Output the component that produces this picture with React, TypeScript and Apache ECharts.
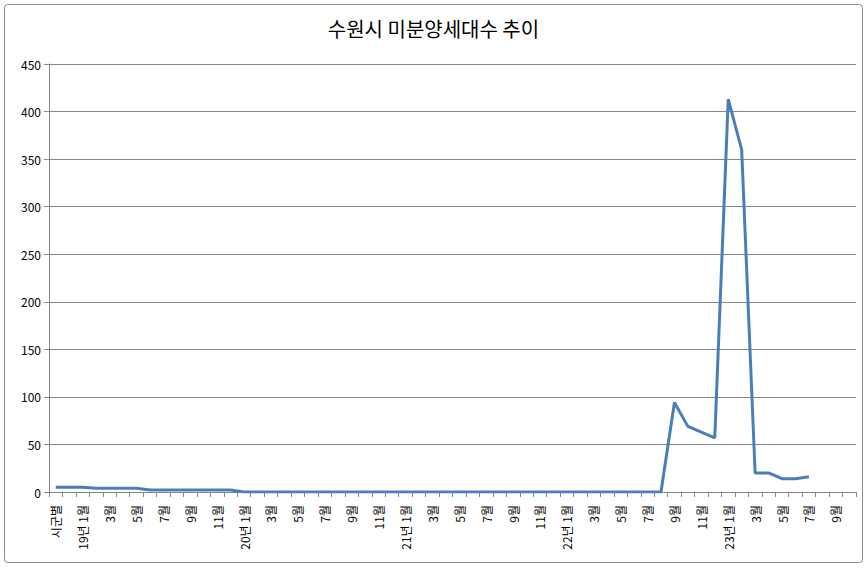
import React, { useEffect, useRef } from 'react'
import * as echarts from 'echarts'

const titleText = '수원시 미분양세대수 추이'

// x axis categories (label shown on every other one)
const categories = [
    '시군별', '18년 12월',
    '19년 1월', '2월', '3월', '4월', '5월', '6월', '7월', '8월', '9월', '10월', '11월', '12월',
    '20년 1월', '2월', '3월', '4월', '5월', '6월', '7월', '8월', '9월', '10월', '11월', '12월',
    '21년 1월', '2월', '3월', '4월', '5월', '6월', '7월', '8월', '9월', '10월', '11월', '12월',
    '22년 1월', '2월', '3월', '4월', '5월', '6월', '7월', '8월', '9월', '10월', '11월', '12월',
    '23년 1월', '2월', '3월', '4월', '5월', '6월', '7월', '8월', '9월', '10월',
]

const unsold: Array<number | null> = [
    5, 5,
    5, 4, 4, 4, 4, 2, 2, 2, 2, 2, 2, 2,
    0, 0, 0, 0, 0, 0, 0, 0, 0, 0, 0, 0,
    0, 0, 0, 0, 0, 0, 0, 0, 0, 0, 0, 0,
    0, 0, 0, 0, 0, 0, 0, 0, 94, 69, 63, 57,
    413, 360, 20, 20, 14, 14, 16, null, null, null,
]

const yMin = 0
const yMax = 450
const yStep = 50

const App: React.FC = () => {
    const chartRef = useRef<HTMLDivElement | null>(null)

    useEffect(() => {
        if (!chartRef.current) return
        const chart = echarts.init(chartRef.current, undefined, { renderer: 'svg' })
        const font = '"Noto Sans CJK KR", "Noto Sans", sans-serif'

        chart.setOption({
            animation: false,
            backgroundColor: '#fff',
            title: {
                text: titleText,
                left: 'center',
                top: 13,
                textStyle: { fontFamily: font, fontSize: 20, fontWeight: 'normal', color: '#000' },
            },
            graphic: [
                {
                    type: 'rect',
                    shape: { x: 4.5, y: 4.5, width: 858, height: 558, r: 3 },
                    style: { fill: 'none', stroke: '#8c8c8c', lineWidth: 1 },
                    silent: true,
                },
            ],
            grid: { left: 49, right: 11, top: 64, bottom: 79 },
            xAxis: {
                type: 'category',
                data: categories,
                boundaryGap: true,
                axisLine: { show: true, lineStyle: { color: '#868686', width: 1 } },
                axisTick: { show: true, interval: 0, length: 5, lineStyle: { color: '#868686' } },
                axisLabel: {
                    interval: 1,
                    rotate: 90,
                    margin: 13,
                    fontFamily: font,
                    fontSize: 12,
                    color: '#000',
                },
                splitLine: { show: false },
            },
            yAxis: {
                type: 'value',
                min: yMin,
                max: yMax,
                interval: yStep,
                axisLine: { show: true, lineStyle: { color: '#868686', width: 1 } },
                axisTick: { show: true, length: 5, lineStyle: { color: '#868686' } },
                axisLabel: { margin: 8, fontFamily: font, fontSize: 12, color: '#000' },
                splitLine: { show: true, lineStyle: { color: '#868686', width: 1 } },
            },
            series: [
                {
                    name: '미분양세대수',
                    type: 'line',
                    data: unsold,
                    showSymbol: false,
                    connectNulls: false,
                    lineStyle: { color: '#4a7ebb', width: 3 },
                    itemStyle: { color: '#4a7ebb' },
                },
            ],
        })

        return () => {
            chart.dispose()
        }
    }, [])

    return (
        <div
            ref={chartRef}
            style={{ position: 'absolute', left: 0, top: 0, width: '867px', height: '571px' }}
        />
    )
}

export default App
